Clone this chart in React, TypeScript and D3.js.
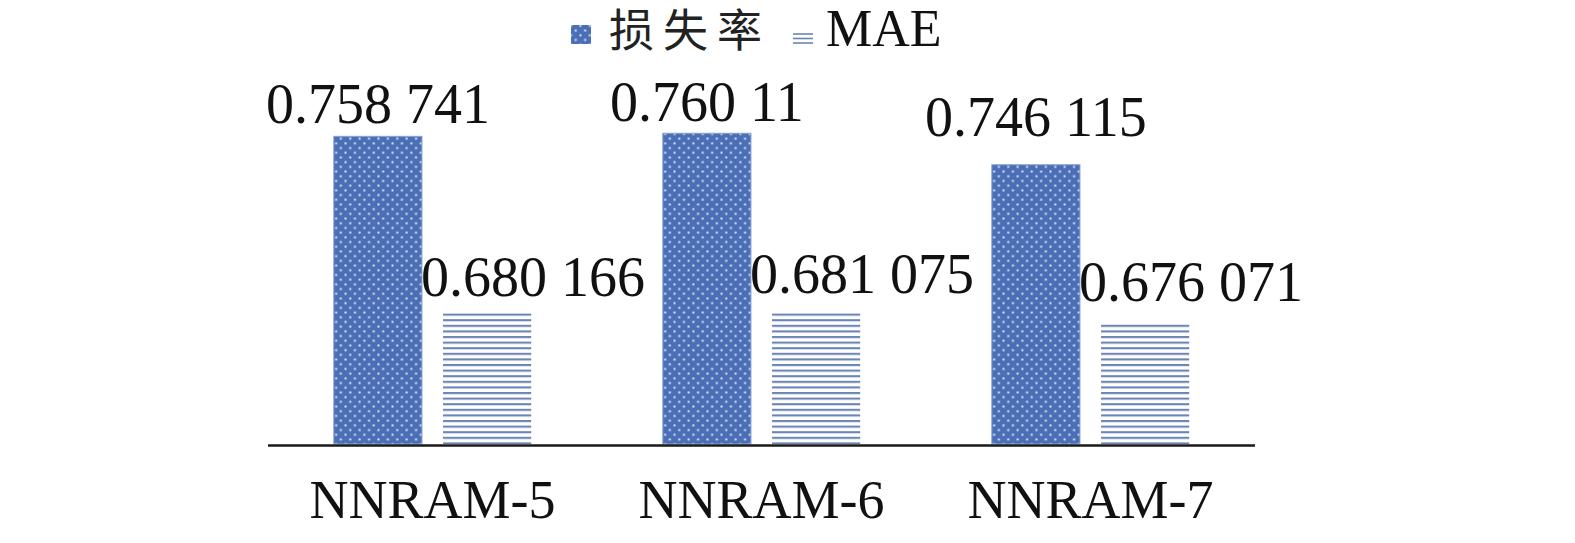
import * as d3 from "d3";

const categories = ["NNRAM-5", "NNRAM-6", "NNRAM-7"];
const seriesNames = ["损失率", "MAE"];
const lossValues = [0.758741, 0.76011, 0.746115];
const maeValues = [0.680166, 0.681075, 0.676071];
const lossLabels = ["0.758 741", "0.760 11", "0.746 115"];
const maeLabels = ["0.680 166", "0.681 075", "0.676 071"];

// manual label nudges seen in the original (dy from bar top)
const lossNudge = [-13, -12, -29];
const maeNudge = [-17, -18, -21];

const width = 1575;
const height = 543;
const axisLeft = 268;
const axisRight = 1255;
const baseY = 444;
const serif = "'Liberation Serif', 'Times New Roman', serif";
const cjk = "'Noto Sans CJK SC', 'Liberation Serif', serif";

export default function App() {
  const x0 = d3
    .scaleBand<string>()
    .domain(categories)
    .range([axisLeft, axisRight])
    .paddingInner(0.4)
    .paddingOuter(0.2);

  const x1 = d3
    .scaleBand<string>()
    .domain(seriesNames)
    .range([0, x0.bandwidth()])
    .paddingInner(0.193);

  const y = d3.scaleLinear().domain([0.622, 0.822]).range([baseY, baseY - 450]);

  const series = [
    { name: seriesNames[0], values: lossValues, labels: lossLabels, fill: "url(#dots)", dx: 0, nudge: lossNudge },
    { name: seriesNames[1], values: maeValues, labels: maeLabels, fill: "url(#hlines)", dx: 46, nudge: maeNudge },
  ];

  return (
    <svg
      width={width}
      height={height}
      style={{ position: "absolute", left: 0, top: 0, background: "#fff" }}
    >
      <defs>
        <pattern id="dots" width={9.4} height={9.4} patternUnits="userSpaceOnUse">
          <rect width={9.4} height={9.4} fill="#4b6fb6" />
          <rect x={1.4} y={1.4} width={1.9} height={1.9} fill="#e8eef8" />
          <rect x={6.1} y={6.1} width={1.9} height={1.9} fill="#e8eef8" />
        </pattern>
        <pattern id="hlines" width={10} height={5.6} patternUnits="userSpaceOnUse">
          <rect width={10} height={5.6} fill="#fff" />
          <rect y={0} width={10} height={2.1} fill="#6a84b6" />
        </pattern>
      </defs>

      {/* legend */}
      <g>
        <rect x={571} y={25} width={20} height={19} fill="url(#dots)" />
        <text x={609} y={47} fontFamily={cjk} fontSize={45} letterSpacing={9} fill="#222">
          {seriesNames[0]}
        </text>
        {[34, 38.5, 43].map((ly) => (
          <line key={ly} x1={793} x2={813} y1={ly} y2={ly} stroke="#6a84b6" strokeWidth={1.6} />
        ))}
        <text x={826} y={46} fontFamily={serif} fontSize={52} fill="#111">
          {seriesNames[1]}
        </text>
      </g>

      {/* bars */}
      {categories.map((cat, i) => (
        <g key={cat} transform={`translate(${x0(cat)},0)`}>
          {series.map((s) => {
            const bx = x1(s.name)!;
            const by = y(s.values[i]);
            return (
              <g key={s.name}>
                <rect
                  x={bx}
                  y={by}
                  width={x1.bandwidth()}
                  height={baseY - by}
                  fill={s.fill}
                  stroke={s.name === seriesNames[0] ? "#86a2d4" : "none"}
                  strokeWidth={1}
                />
                <text
                  x={bx + x1.bandwidth() / 2 + s.dx}
                  y={by + s.nudge[i]}
                  textAnchor="middle"
                  fontFamily={serif}
                  fontSize={56}
                  fill="#111"
                >
                  {s.labels[i]}
                </text>
              </g>
            );
          })}
          <text
            x={x0.bandwidth() / 2}
            y={518}
            textAnchor="middle"
            fontFamily={serif}
            fontSize={54}
            fill="#111"
          >
            {cat}
          </text>
        </g>
      ))}

      {/* axis line */}
      <line x1={axisLeft} x2={axisRight} y1={445.5} y2={445.5} stroke="#1a1a1a" strokeWidth={2.6} />
    </svg>
  );
}
